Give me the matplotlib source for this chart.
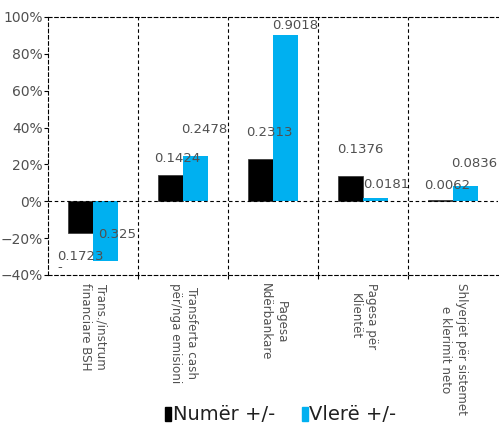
import matplotlib.pyplot as plt
import numpy as np
from matplotlib.patches import Patch
from matplotlib.ticker import FixedLocator, PercentFormatter

plt.rcParams["font.family"] = ["DejaVu Sans"]

categories = [
    "Trans./instrum\nfinanciare BSH",
    "Transferta cash\npër/nga emisioni",
    "Pagesa\nNdërbankare",
    "Pagesa për\nKlientët",
    "Shlyerjet për sistemet\ne klerimit neto",
]
numer = [-0.1723, 0.1424, 0.2313, 0.1376, 0.0062]
vlere = [-0.325, 0.2478, 0.9018, 0.0181, 0.0836]
numer_text = ["0.1723\n-", "0.1424", "0.2313", "0.1376", "0.0062"]
vlere_text = ["0.325", "0.2478", "0.9018", "0.0181", "0.0836"]

# label offsets in pixels from bar end (dx, dy), hand tuned to the picture
numer_off = [(0, -29), (7, 17), (9, 26), (10, 26), (7, 15)]
vlere_off = [(12, 27), (9, 26), (10, 10), (11, 13), (8, 22)]

black = "#000000"
blue = "#00B0F0"
grey = "#505050"

fig = plt.figure(figsize=(4.99, 4.30), dpi=100)
ax = fig.add_axes([0.0962, 0.3605, 0.902, 0.6])

x = np.arange(len(categories))
w = 0.28
ax.bar(x - w / 2, numer, w, color=black, edgecolor="#303030", linewidth=0.5)
ax.bar(x + w / 2, vlere, w, color=blue)

for i in range(len(x)):
    ax.annotate(numer_text[i], (x[i] - w / 2, numer[i]), xytext=numer_off[i],
                textcoords="offset pixels", ha="center", va="center",
                fontsize=9.5, color=grey, multialignment="left", linespacing=0.8)
    ax.annotate(vlere_text[i], (x[i] + w / 2, vlere[i]), xytext=vlere_off[i],
                textcoords="offset pixels", ha="center", va="center",
                fontsize=9.5, color=grey)

ax.set_xlim(-0.5, len(categories) - 0.5)
ax.set_ylim(-0.4, 1.0)
ax.yaxis.set_major_locator(FixedLocator(np.arange(-0.4, 1.01, 0.2)))
ax.yaxis.set_major_formatter(PercentFormatter(1.0, decimals=0))

dash = (0, (3.2, 2.4))
ax.axhline(0, color=black, linestyle=dash, linewidth=0.8, zorder=3)
for b in np.arange(0.5, len(categories) - 0.5, 1):
    ax.axvline(b, color=black, linestyle=dash, linewidth=0.8, zorder=0)

for side in ["top", "bottom", "left"]:
    ax.spines[side].set_linestyle(dash)
    ax.spines[side].set_linewidth(0.8)
ax.spines["right"].set_visible(False)

ax.set_xticks(np.arange(0.5, len(categories) - 0.5, 1))
ax.set_xticklabels([])
ax.tick_params(axis="x", length=3, width=0.8, direction="out")
ax.tick_params(axis="y", length=3, width=0.8, direction="out", labelsize=10,
               labelcolor=grey, pad=1)

for i, c in enumerate(categories):
    ax.text(x[i], -0.445, c, rotation=270, ha="center", va="top",
            fontsize=8.6, color=grey, linespacing=1.3)

handles = [Patch(color=black), Patch(color=blue)]
fig.legend(handles, ["Numër +/-", "Vlerë +/-"], loc="center",
           bbox_to_anchor=(0.563, 0.035), ncol=2, frameon=False,
           prop={"size": 14}, handlelength=0.28, handleheight=0.72,
           handletextpad=0.1, columnspacing=1.4, labelcolor="#202020")

fig.savefig("out.png", dpi=100)
